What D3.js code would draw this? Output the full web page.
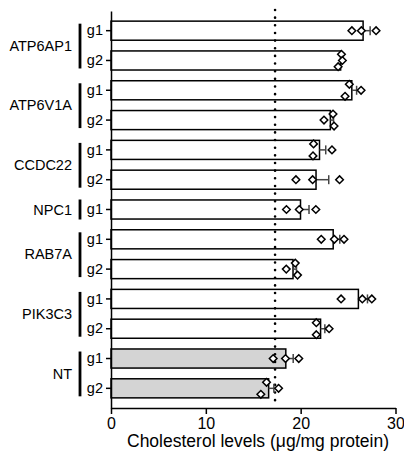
<!DOCTYPE html>
<html>
<head>
<meta charset="utf-8">
<script src="https://cdn.jsdelivr.net/npm/d3@7"></script>
<style>
  html, body { margin: 0; padding: 0; background: #fff; }
  svg { display: block; font-family: "Liberation Sans", Arial, sans-serif; }
</style>
</head>
<body>
<svg id="chart" width="404" height="455"></svg>
<script>
// ---- data ----
const rowGene  = ["ATP6AP1","ATP6AP1","ATP6V1A","ATP6V1A","CCDC22","CCDC22","NPC1","RAB7A","RAB7A","PIK3C3","PIK3C3","NT","NT"];
const rowGuide = ["g1","g2","g1","g2","g1","g2","g1","g1","g2","g1","g2","g1","g2"];
const rep1 = [25.4, 24.3, 25.13, 23.41, 21.36, 19.5, 18.5, 22.17, 19.43, 24.26, 21.65, 17.1, 16.4];
const rep2 = [26.4, 24.4, 26.37, 22.46, 21.3, 21.26, 19.85, 23.55, 18.48, 26.5, 21.65, 18.4, 17.67];
const rep3 = [27.95, 23.95, 24.68, 23.52, 23.3, 24.1, 21.6, 24.57, 19.67, 27.5, 23.0, 19.8, 15.8];
const controlGenes = ["NT"];
const referenceLevel = 17.3;
const xTicks = [0, 10, 20, 30];
const xTitle = "Cholesterol levels (\u03bcg/mg protein)";

// ---- layout ----
const svg = d3.select("#chart");
const x0 = 111, x1 = 395.5, yTop = 11, yBot = 408;

const x = d3.scaleLinear().domain([0, 30]).range([x0, x1]);
const rows = d3.range(rowGene.length);
const y = d3.scaleBand().domain(rows).range([yTop, yBot]).paddingInner(0.36).paddingOuter(0.34);
const bw = y.bandwidth();

const reps = rows.map(i => [rep1[i], rep2[i], rep3[i]]);
const means = reps.map(r => d3.mean(r));
const sems = reps.map(r => d3.deviation(r) / Math.sqrt(r.length));

// bars
svg.append("g").selectAll("rect").data(rows).join("rect")
  .attr("x", x(0))
  .attr("y", i => y(i))
  .attr("width", i => x(means[i]) - x(0))
  .attr("height", bw)
  .attr("fill", i => controlGenes.includes(rowGene[i]) ? "#d4d4d4" : "#fff")
  .attr("stroke", "#000")
  .attr("stroke-width", 1.5);

// reference dotted line
svg.append("line")
  .attr("x1", x(referenceLevel)).attr("x2", x(referenceLevel))
  .attr("y1", 10).attr("y2", 404)
  .attr("stroke", "#000").attr("stroke-width", 2.6)
  .attr("stroke-linecap", "round")
  .attr("stroke-dasharray", "0,7.65");

// error bars (mean + SEM)
const eb = svg.append("g").attr("stroke", "#444").attr("stroke-width", 1.5);
rows.forEach(i => {
  const cy = y(i) + bw / 2;
  const xe = x(means[i] + sems[i]);
  eb.append("line").attr("x1", x(means[i])).attr("x2", xe).attr("y1", cy).attr("y2", cy);
  eb.append("line").attr("x1", xe).attr("x2", xe).attr("y1", cy - 4.5).attr("y2", cy + 4.5);
});

// points with collision spreading
const dm = 3.8;
const diamond = `M0,${-dm}L${dm},0L0,${dm}L${-dm},0Z`;
const pts = [];
rows.forEach(i => {
  const vals = reps[i].map((v, k) => ({v, k, px: x(v)}));
  const sorted = vals.slice().sort((a, b) => a.px - b.px);
  const clusters = [];
  sorted.forEach(p => {
    const last = clusters[clusters.length - 1];
    if (last && p.px - last[last.length - 1].px < 7.5) last.push(p);
    else clusters.push([p]);
  });
  clusters.forEach(c => {
    c.sort((a, b) => a.k - b.k);
    const offs = c.length === 1 ? [0] : c.length === 2 ? [-6, 6] : c.map((_, j) => (j - (c.length - 1) / 2) * 6.2);
    c.forEach((p, j) => pts.push({px: p.px, py: y(i) + bw / 2 + offs[j]}));
  });
});
svg.append("g").selectAll("path").data(pts).join("path")
  .attr("d", diamond)
  .attr("transform", d => `translate(${d.px},${d.py})`)
  .attr("fill", "#fff").attr("stroke", "#000").attr("stroke-width", 1.5);

// x axis
const xAxis = svg.append("g").attr("transform", `translate(0,${yBot})`)
  .call(d3.axisBottom(x).tickValues(xTicks).tickSize(6).tickSizeOuter(0).tickPadding(3.5));
xAxis.selectAll("path, line").attr("stroke", "#000").attr("stroke-width", 1.5);
xAxis.selectAll("text").attr("font-size", 16).attr("fill", "#000").attr("font-family", "Liberation Sans, Arial, sans-serif");

svg.append("text")
  .attr("x", 258).attr("y", 447)
  .attr("text-anchor", "middle")
  .attr("font-size", 17.5)
  .text(xTitle);

// y axis
const yAxis = svg.append("g").attr("transform", `translate(${x0},0)`)
  .call(d3.axisLeft(y).tickFormat(i => rowGuide[i]).tickSize(5).tickSizeOuter(0).tickPadding(3));
yAxis.selectAll("path, line").attr("stroke", "#000").attr("stroke-width", 1.5);
yAxis.selectAll("text").attr("font-size", 14.5).attr("fill", "#000").attr("font-family", "Liberation Sans, Arial, sans-serif");

// gene group labels and brackets
const genes = Array.from(new Set(rowGene));
genes.forEach(g => {
  const idx = rows.filter(i => rowGene[i] === g);
  const c0 = y(idx[0]) + bw / 2, c1 = y(idx[idx.length - 1]) + bw / 2;
  const top = idx.length > 1 ? c0 - 7 : c0 - 10;
  const bot = idx.length > 1 ? c1 + 8 : c1 + 10;
  svg.append("line").attr("x1", 80).attr("x2", 80).attr("y1", top).attr("y2", bot)
    .attr("stroke", "#000").attr("stroke-width", 2.8);
  svg.append("text").attr("x", 72).attr("y", (c0 + c1) / 2).attr("dy", "0.35em")
    .attr("text-anchor", "end").attr("font-size", 14.5).text(g);
});
</script>
</body>
</html>
